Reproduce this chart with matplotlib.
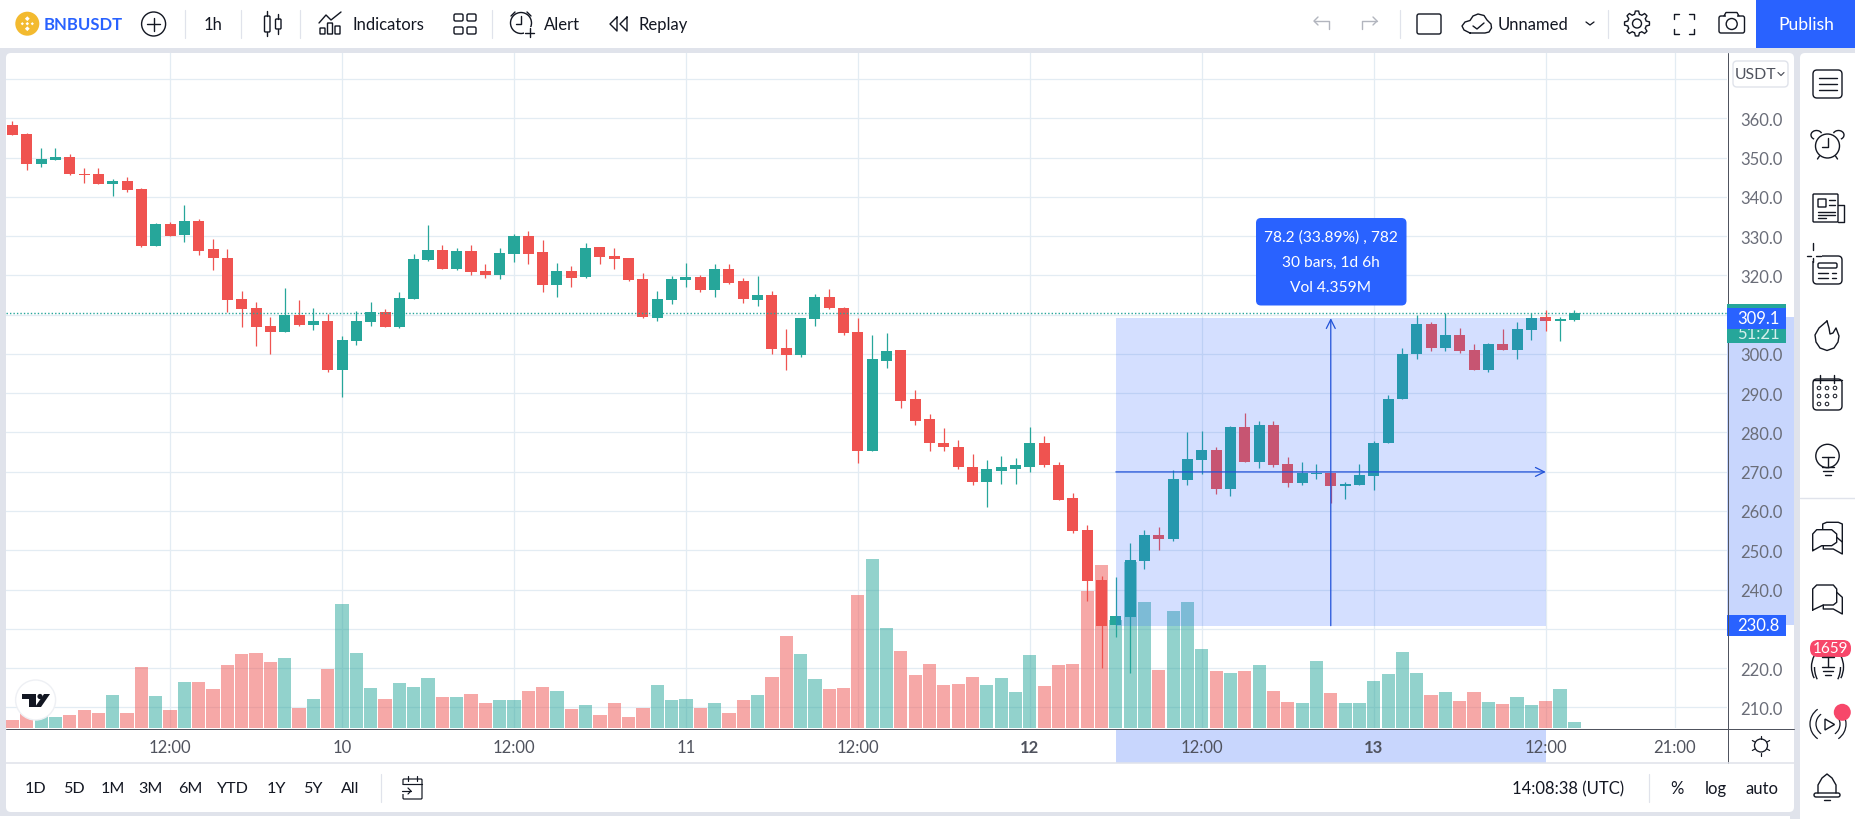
import numpy as np
import matplotlib
matplotlib.use('Agg')
import matplotlib.pyplot as plt
from matplotlib.patches import Circle, FancyBboxPatch, Polygon, Rectangle, Arc

plt.rcParams['font.family'] = ['Lato', 'DejaVu Sans']

# hourly bars, hour 0 is 10th 00:00
bar_hours = np.arange(-23, 87)

opens = [358.3, 356.0, 348.4, 349.4, 350.2, 345.8, 345.8, 343.3, 344.0, 342.0,
         327.5, 333.1, 330.3, 333.9, 326.8, 324.5, 314.0, 311.7, 307.2, 305.6,
         310.0, 307.4, 308.4, 296.0, 303.4, 308.2, 310.7, 306.9, 314.1, 324.0,
         326.5, 321.7, 326.3, 321.2, 320.2, 325.5, 330.1, 326.0, 317.6, 321.2,
         319.7, 327.3, 325.0, 324.5, 319.2, 309.2, 313.8, 318.9, 319.7, 316.3,
         321.7, 318.6, 313.8, 315.1, 301.6, 299.8, 309.0, 314.6, 311.8, 305.7,
         275.4, 298.3, 301.1, 288.4, 283.3, 277.4, 276.4, 271.3, 267.3, 270.3,
         270.8, 271.3, 277.2, 271.8, 263.2, 255.2, 242.4, 231.0, 233.0, 247.3,
         253.9, 252.9, 267.9, 273.0, 275.5, 265.6, 281.4, 272.5, 281.9, 271.9,
         267.1, 269.4, 269.8, 266.3, 266.6, 268.9, 277.2, 288.4, 300.1, 307.7,
         301.4, 304.7, 301.1, 296.0, 302.6, 301.1, 306.2, 309.5, 308.5, 308.7]

highs = [359.3, 356.3, 352.4, 352.4, 350.9, 347.4, 347.4, 344.6, 345.1, 342.3,
         333.4, 333.6, 337.9, 334.4, 329.3, 326.8, 316.1, 313.3, 309.5, 316.8,
         313.8, 311.7, 310.1, 304.6, 311.0, 313.3, 311.5, 315.8, 325.5, 332.9,
         327.8, 327.0, 327.8, 323.0, 327.0, 330.6, 331.4, 329.1, 323.2, 322.5,
         328.3, 327.3, 327.0, 324.5, 320.7, 316.1, 319.9, 323.2, 320.2, 323.0,
         323.0, 319.4, 319.9, 316.1, 306.4, 309.2, 315.3, 316.6, 312.0, 309.2,
         304.7, 305.2, 301.1, 290.7, 284.8, 281.2, 278.2, 274.4, 273.1, 274.1,
         273.4, 281.5, 279.2, 272.6, 264.5, 256.4, 243.5, 243.2, 251.8, 255.2,
         255.9, 270.4, 280.1, 280.3, 276.3, 281.6, 284.9, 282.9, 282.9, 273.7,
         272.5, 271.9, 269.8, 267.4, 271.9, 277.8, 289.6, 301.6, 310.0, 308.2,
         310.3, 306.7, 302.6, 302.9, 306.4, 308.2, 310.3, 311.3, 309.5, 311.3]

lows = [355.8, 346.9, 347.6, 349.4, 345.6, 343.5, 343.3, 340.2, 341.2, 327.3,
        327.5, 330.1, 328.5, 325.2, 321.4, 310.7, 306.9, 302.1, 300.0, 305.6,
        307.2, 306.1, 295.5, 289.1, 302.3, 307.2, 306.9, 306.7, 314.1, 323.7,
        321.7, 321.4, 320.2, 319.4, 319.2, 323.5, 323.0, 315.8, 314.6, 317.1,
        319.4, 323.0, 321.7, 318.6, 309.2, 308.5, 312.8, 317.1, 315.8, 314.6,
        317.9, 313.0, 312.3, 300.1, 296.0, 299.1, 307.2, 311.5, 304.7, 272.1,
        275.4, 296.3, 286.1, 281.8, 275.2, 275.4, 270.6, 266.5, 260.9, 267.0,
        267.0, 270.0, 271.1, 262.7, 254.5, 237.1, 220.0, 227.9, 218.8, 245.2,
        250.1, 252.4, 266.6, 269.4, 264.3, 263.8, 272.5, 270.9, 271.2, 266.1,
        266.6, 268.1, 262.0, 263.0, 266.6, 265.3, 277.2, 288.4, 298.8, 300.8,
        300.8, 300.3, 296.0, 295.5, 301.1, 298.8, 303.6, 305.9, 303.4, 308.5]

closes = [355.8, 348.4, 349.6, 350.2, 345.8, 345.6, 343.3, 344.0, 341.8, 327.5,
          333.1, 330.1, 333.9, 326.2, 324.5, 313.8, 311.5, 306.9, 305.6, 310.0,
          307.4, 308.4, 296.0, 303.6, 308.4, 310.7, 306.9, 314.3, 324.2, 326.5,
          321.7, 326.3, 320.9, 320.2, 325.8, 330.1, 325.5, 317.6, 321.2, 319.4,
          327.0, 324.7, 324.2, 318.9, 309.5, 314.1, 319.2, 319.7, 316.3, 321.7,
          318.1, 314.1, 315.1, 301.3, 299.8, 309.2, 314.6, 311.8, 305.4, 275.4,
          298.6, 300.8, 288.1, 283.0, 277.2, 276.4, 271.3, 267.3, 270.6, 271.1,
          271.6, 277.2, 271.6, 262.9, 255.0, 242.2, 230.7, 233.3, 247.5, 253.9,
          252.9, 268.1, 273.2, 275.5, 265.6, 281.4, 272.5, 281.9, 271.7, 267.1,
          269.8, 269.8, 266.3, 266.9, 269.2, 277.3, 288.6, 300.1, 307.7, 301.4,
          304.7, 300.8, 296.0, 302.6, 301.1, 306.4, 309.2, 308.5, 309.0, 310.3]

# volume in thousands
volumes = [25, 46, 38, 34, 40, 55, 46, 100, 46, 184,
           97, 55, 139, 139, 118, 190, 223, 226, 199, 211,
           61, 88, 178, 373, 226, 121, 88, 136, 124, 151,
           94, 94, 103, 76, 85, 85, 112, 124, 112, 58,
           70, 40, 76, 34, 61, 130, 85, 88, 61, 76,
           46, 85, 100, 154, 277, 223, 148, 118, 121, 400,
           508, 301, 232, 160, 193, 130, 133, 154, 130, 151,
           109, 220, 127, 190, 193, 412, 490, 325, 499, 379,
           175, 352, 379, 238, 172, 166, 172, 190, 112, 79,
           76, 202, 106, 76, 76, 142, 163, 229, 166, 100,
           109, 82, 109, 79, 73, 94, 70, 82, 118, 19]

price_ticks = [360, 350, 340, 330, 320, 310, 300, 290, 280, 270, 260, 250, 240, 230, 220, 210]
time_ticks = [-12, 0, 12, 24, 36, 48, 60, 72, 84, 93]
time_labels = ['12:00', '10', '12:00', '11', '12:00', '12', '12:00', '13', '12:00', '21:00']

measure_start, measure_end = 54, 84
measure_low, measure_high = 230.8, 309.1
measure_lines = ['78.2 (33.89%) , 782', '30 bars, 1d 6h', 'Vol 4.359M']

range_buttons = ['1D', '5D', '1M', '3M', '6M', 'YTD', '1Y', '5Y', 'All']
range_x = [36, 73.5, 112.7, 151, 190, 233, 276, 312.6, 350]

UP = '#26a69a'
DOWN = '#ef5350'
BLUE = '#2962ff'
ICON = '#131722'
PANEL = '#e0e3eb'
GRID = '#e3ecf3'
TXT = '#50535e'
BADGE = '#f7476a'

W, H = 1855, 820
fig = plt.figure(figsize=(W / 100, H / 100), dpi=100, facecolor=PANEL)


def overlay(z):
    a = fig.add_axes([0, 0, 1, 1], zorder=z)
    a.set_xlim(0, W)
    a.set_ylim(H, 0)
    a.axis('off')
    return a


back = overlay(0)
ui = overlay(3)


def line(xs, ys, lw=1.4, c=ICON, a=None):
    (a or ui).plot(xs, ys, color=c, lw=lw * 0.72, solid_capstyle='round', solid_joinstyle='round')


def box(x0, y0, x1, y1, r=2, fc='none', ec=ICON, lw=1.4, a=None):
    (a or ui).add_patch(FancyBboxPatch((x0, y0), x1 - x0, y1 - y0,
                                       boxstyle='round,pad=0,rounding_size=%s' % r,
                                       fc=fc, ec=ec, lw=lw * 0.72))


def ring(x, y, r, fc='none', ec=ICON, lw=1.4):
    ui.add_patch(Circle((x, y), r, fc=fc, ec=ec, lw=lw * 0.72))


def label(x, y, s, size=12, color=ICON, **kw):
    ui.text(x, y, s, fontsize=size, color=color, ha=kw.pop('ha', 'center'), va='center', **kw)


# panels
back.add_patch(Rectangle((0, 1), W, 48, fc='white', ec='none'))
box(6, 54, 1794, 813, r=5, fc='white', ec='none', a=back)
box(1800, 54, 1875, 840, r=5, fc='white', ec='none', a=back)
back.add_patch(Rectangle((0, 817), 1790, 3, fc='white', ec='none'))
# highlighted part of the axes
back.add_patch(Rectangle((1727, 318), 67, 308, fc='#c8d6fd', ec='none'))
back.add_patch(Rectangle((1115.5, 730), 430.5, 34, fc='#c8d6fd', ec='none'))

# chart
ax = fig.add_axes([6 / W, 1 - 729.3 / H, 1721 / W, 675.3 / H], zorder=1)
ax.patch.set_visible(False)
for s in ax.spines.values():
    s.set_visible(False)
ax.set_xlim(-23.45, 96.65)
ymin, ymax = 204.66, 376.63
ax.set_ylim(ymin, ymax)

ax.set_axisbelow(True)
ax.yaxis.tick_right()
ax.set_yticks(price_ticks + [370], ['%.1f' % p for p in price_ticks] + [''])
ax.set_xticks(time_ticks, time_labels)
ax.grid(True, color=GRID, lw=0.9)
ax.tick_params(axis='y', length=0, pad=9.6, labelsize=12, labelcolor='#6a6d78')
ax.tick_params(axis='x', length=0, pad=8, labelsize=12, labelcolor=TXT)
for t in ax.get_xticklabels():
    if t.get_text() in ('12', '13'):
        t.set_fontweight('bold')

opens = np.array(opens)
closes = np.array(closes)
colors = [UP if c >= o else DOWN for o, c in zip(opens, closes)]

# volume pane shares the bottom of the price pane, 1k is a third of a pixel
vol_scale = (ymax - ymin) / (675.3 * 3)
ax.bar(bar_hours, np.array(volumes) * vol_scale, bottom=ymin, width=0.92,
       color=colors, alpha=0.5, lw=0, zorder=2)

ax.vlines(bar_hours, lows, highs, colors=colors, lw=0.9, zorder=3)
ax.bar(bar_hours, np.abs(closes - opens), bottom=np.minimum(opens, closes),
       width=0.77, color=colors, lw=0, zorder=4)

# last price line
ax.axhline(closes[-1], color=UP, lw=1.0, ls=(0, (1, 1.5)), zorder=5)

# measure tool
ax.add_patch(Rectangle((measure_start, measure_low), measure_end - measure_start,
                       measure_high - measure_low, fc=BLUE, alpha=0.2, ec='none', zorder=6))
mid_h = (measure_start + measure_end) / 2
mid_p = (measure_low + measure_high) / 2
for a_from, a_to in [((mid_h, measure_low), (mid_h, measure_high)),
                     ((measure_start, mid_p), (measure_end, mid_p))]:
    ax.annotate('', xy=a_to, xytext=a_from, zorder=7,
                arrowprops=dict(arrowstyle='->', color='#2152d8', lw=0.9,
                                mutation_scale=16, shrinkA=0, shrinkB=0))

# axis frame
line([1727.5, 1727.5], [54, 764], lw=1.0, c=TXT)
line([6, 1794], [729.5, 729.5], lw=1.0, c=TXT)
line([6, 1794], [764, 764], lw=1.6, c=PANEL)
line([1800, 1855], [499, 499], lw=1.4, c=PANEL)

# tooltip
box(1256, 219, 1406.5, 306.5, r=5, fc=BLUE, ec='none')
for yy, s in zip([237.7, 262.7, 287.7], measure_lines):
    label(1331, yy, s, size=11.2, color='white')

# price labels, the countdown is partly hidden by the blue one as in the app
ui.add_patch(Rectangle((1727, 305), 58.5, 39, fc=UP, ec='none', zorder=2))
label(1758, 334, '51:21', size=12, color='#d5efec', zorder=3)
ui.add_patch(Rectangle((1727, 309), 58.5, 21, fc=BLUE, ec='none', zorder=4))
label(1758, 319.5, '%.1f' % measure_high, size=12, color='white', zorder=5)
ui.add_patch(Rectangle((1727, 616), 58.5, 21, fc=BLUE, ec='none'))
label(1758, 626.5, '%.1f' % measure_low, size=12, color='white')
box(1733, 62, 1788, 88, r=4, fc='white', ec=PANEL)
label(1756, 75, 'USDT', size=11.4, color=TXT)
line([1778, 1781, 1784], [73.5, 76.5, 73.5], lw=1.2, c=TXT)

# tv logo
ring(35.6, 701, 20, fc='white', ec='#eef0f4')
ui.add_patch(Polygon([(22, 695), (36, 695), (36, 708), (29, 708), (29, 700), (22, 700)], fc=ICON, ec='none'))
ring(40, 697.5, 2.6, fc=ICON, ec='none')
ui.add_patch(Polygon([(44, 695), (50, 695), (41, 708), (35, 708)], fc=ICON, ec='none'))

# sun icon on the time axis
ring(1761, 746.5, 6.5, lw=1.3)
for ang in np.arange(0, 360, 60):
    dx, dy = np.cos(np.radians(ang + 30)), np.sin(np.radians(ang + 30))
    line([1761 + 7 * dx, 1761 + 10 * dx], [746.5 + 7 * dy, 746.5 + 10 * dy], lw=1.2)

# bottom bar
for x, s in zip(range_x, range_buttons):
    label(x, 789, s, size=11.6)
line([381, 381], [775, 803], lw=1.2, c=PANEL)
box(403, 780, 422, 800, r=1, lw=1.2)
ui.add_patch(Rectangle((400, 786), 12, 9, fc='white', ec='none'))
line([403, 422], [785, 785], lw=1.2)
line([408, 408], [777, 782], lw=1.2)
line([417, 417], [777, 782], lw=1.2)
line([402, 411], [792, 792], lw=1.2)
line([408, 411, 408], [789, 792, 795], lw=1.2)
label(1568.5, 789, '14:08:38 (UTC)', size=12)
line([1648.6, 1648.6], [775, 803], lw=1.2, c=PANEL)
label(1677, 789, '%', size=12)
label(1715.6, 789, 'log', size=12)
label(1762, 789, 'auto', size=12)

# top bar, left
ring(27.3, 24.7, 12, fc='#f3ba2f', ec='none')
for dx, dy, s in [(0, -5, 2.4), (-5, 0, 1.6), (5, 0, 1.6), (0, 5, 2.4), (0, 0, 1.8)]:
    ui.add_patch(Polygon([(27.3 + dx - s, 24.7 + dy), (27.3 + dx, 24.7 + dy - s),
                          (27.3 + dx + s, 24.7 + dy), (27.3 + dx, 24.7 + dy + s)], fc='white', ec='none'))
label(83, 25, 'BNBUSDT', size=12, color=BLUE, fontweight='bold')
ring(153.6, 25, 12)
line([147, 160], [25, 25])
line([153.6, 153.6], [18.5, 31.5])
for x in [184.5, 241, 300, 492, 1399.5, 1607.7]:
    line([x, x], [11, 39], lw=1.2, c=PANEL)
label(213.5, 25, '1h', size=12)
box(264.5, 17, 270, 33, r=1)
line([267.2, 267.2], [12, 17])
line([267.2, 267.2], [33, 37])
box(275.5, 20, 281, 30, r=1)
line([278.2, 278.2], [15, 20])
line([278.2, 278.2], [30, 35])

# indicators
line([319, 326, 331, 341], [24, 16, 21, 13])
box(320, 29, 325, 35, r=0.5)
box(327.5, 24, 332.5, 35, r=0.5)
box(335, 27, 340, 35, r=0.5)
label(388.5, 25, 'Indicators', size=12)
for xx, yy in [(454, 15), (467, 15), (454, 28), (467, 28)]:
    box(xx, yy, xx + 9, yy + 7, r=1.5)

# alert
ring(521, 24, 10.5)
line([521, 521, 516], [17, 25, 25])
line([511, 515], [17, 13])
line([531, 527], [17, 13])
ui.add_patch(Rectangle((524, 28), 12, 11, fc='white', ec='none'))
line([529.5, 529.5], [29, 38])
line([525, 534], [33.5, 33.5])
label(561.7, 25, 'Alert', size=12)

# replay
line([617, 610, 617, 617], [18, 25, 32, 18])
line([627, 620, 627, 627], [18, 25, 32, 18])
label(663, 25, 'Replay', size=12)

# top bar, right
for cx, d in [(1321, 1), (1370, -1)]:
    line([cx + d * 8, cx + d * 8, cx - d * 7], [30, 22, 22], c='#b2b5be')
    line([cx - d * 3, cx - d * 7, cx - d * 3], [18, 22, 26], c='#b2b5be')
box(1417, 15, 1441, 35, r=2)
line([1470, 1464, 1462, 1465, 1470, 1473, 1478, 1484, 1487, 1491, 1491.5, 1489, 1485, 1470],
     [34, 31, 27, 23, 21.5, 17, 15, 16.5, 21, 25, 29, 33, 34, 34])
line([1473, 1477, 1484], [27, 30, 24])
label(1533, 25, 'Unnamed', size=12)
line([1586, 1590, 1594], [23, 26, 23], lw=1.3)

ring(1637, 24.5, 4.5)
angs = np.radians(np.arange(0, 360, 7.5))
radii = [12.5 if (i % 6) in (0, 1, 5) else 9.5 for i in range(len(angs))]
ui.add_patch(Polygon(np.c_[1637 + np.cos(angs) * radii, 24.5 + np.sin(angs) * radii],
                     fc='none', ec=ICON, lw=1.0))
for sx, sy in [(-1, -1), (1, -1), (-1, 1), (1, 1)]:
    line([1684 + sx * 10, 1684 + sx * 10, 1684 + sx * 5], [24.5 + sy * 5, 24.5 + sy * 10, 24.5 + sy * 10])
box(1719, 17, 1744.5, 34, r=2)
ui.add_patch(Rectangle((1726, 15), 11, 3, fc='white', ec='none'))
line([1724, 1726, 1737, 1739], [17, 13.5, 13.5, 17])
ring(1731.7, 25, 5.5)
ui.add_patch(Rectangle((1756, 1), 99, 48, fc=BLUE, ec='none'))
label(1806, 25, 'Publish', size=12.6, color='white')

# right toolbar
cx = 1827.5
box(cx - 14.5, 71, cx + 14.5, 99, r=4)
for yy in [79, 85, 91]:
    line([cx - 9, cx + 9], [yy, yy])

ring(cx, 147, 12)
line([cx, cx, cx - 6], [139, 148, 148])
ui.add_patch(Arc((cx - 11, 136), 11, 9, theta1=120, theta2=340, color=ICON, lw=1.0))
ui.add_patch(Arc((cx + 11, 136), 11, 9, theta1=200, theta2=60, color=ICON, lw=1.0))
line([cx - 8, cx - 10], [157, 160])
line([cx + 8, cx + 10], [157, 160])

box(1813, 195, 1838, 223, r=1)
line([1838, 1844, 1844, 1838], [206, 206, 223, 223])
box(1818, 200, 1826, 208, r=0.5)
line([1828.5, 1835], [201, 201])
line([1828.5, 1835], [205.5, 205.5])
line([1818, 1835], [212.5, 212.5])
line([1818, 1835], [215.5, 215.5])
line([1818, 1826], [218.5, 218.5])

box(1813, 257, 1842, 285, r=4)
ui.add_patch(Rectangle((1806, 250), 12, 12, fc='white', ec='none'))
ui.add_patch(Rectangle((1818, 255), 3.5, 4, fc='white', ec='none'))
line([1807, 1811], [257, 257])
line([1816, 1821], [257, 257])
line([1812.5, 1812.5], [244, 251])
line([1812.5, 1812.5], [259, 263])
box(1818, 264, 1837, 269, r=1.5)
for yy in [273.5, 279]:
    line([1818, 1828], [yy, yy])
    line([1832, 1836], [yy, yy])

line([1827, 1819, 1815, 1816, 1820, 1827, 1834, 1838, 1839, 1836, 1833, 1830, 1829, 1827],
     [322, 329, 336, 343, 349, 351.5, 349, 343, 337, 329, 334, 335, 329, 322])

box(1813, 380, 1842, 411, r=4)
line([1820, 1820], [376, 384])
line([1834, 1834], [376, 384])
line([1813, 1842], [381, 381])
for yy, xs in [(389, [1819, 1827, 1835]), (397, [1819, 1827, 1835]), (405, [1819, 1827])]:
    for xx in xs:
        ring(xx, yy, 1.8, lw=1)


def bulb_base(y):
    line([cx - 6, cx + 6], [y, y])
    line([cx - 5, cx + 5], [y + 4, y + 4])
    line([cx - 3, cx + 3], [y + 8, y + 8])


ring(cx, 457, 11.7)
line([cx - 6, cx + 6], [458, 458])
line([cx, cx], [458, 468])
bulb_base(468)

# chats
line([1812.7, 1812.7, 1816.7, 1831.7, 1836.7, 1836.7, 1831.7, 1821.7, 1812.7],
     [551.7, 535, 530.7, 530.7, 535, 543.3, 546.7, 546.7, 551.7])
line([1822.7, 1822.7, 1826.7, 1838.3, 1842.3, 1842.3, 1833.3, 1823.3, 1823.3],
     [530, 525, 523.3, 523.3, 525, 555, 550, 550, 546.7])
line([1836.7, 1842.3], [538.3, 543])
line([1812.7, 1812.7, 1816.7, 1833.3, 1836.7, 1836.7, 1833.3, 1823.3, 1812.7],
     [611, 590, 586, 586, 590, 603.3, 606, 606, 611])
line([1836.7, 1842.3, 1842.3, 1833.3, 1823.3, 1823.3],
     [593.3, 598.3, 615, 610, 610, 606])

# ideas with the badge
line([cx - 6, cx + 6], [658, 658])
line([cx, cx], [658, 668])
bulb_base(668)
ui.add_patch(Arc((cx, 668), 32, 40, theta1=140, theta2=220, color=ICON, lw=1.0))
ui.add_patch(Arc((cx, 668), 26, 40, theta1=130, theta2=180, color=ICON, lw=1.0))
ui.add_patch(Arc((cx, 668), 32, 40, theta1=-40, theta2=40, color=ICON, lw=1.0))
ui.add_patch(Arc((cx, 668), 26, 40, theta1=0, theta2=50, color=ICON, lw=1.0))
box(1810, 641, 1851, 658, r=8, fc=BADGE, ec='none')
label(1830.5, 649.5, '1659', size=11, color='white')

ui.add_patch(Polygon([(1825, 720), (1834.5, 725.5), (1825, 731)], fc='none', ec=ICON, lw=1.0))
for r in [12, 18]:
    ui.add_patch(Arc((1828, 725), 2 * r, 2 * r, theta1=125, theta2=235, color=ICON, lw=0.9))
    ui.add_patch(Arc((1828, 725), 2 * r, 2 * r, theta1=-55, theta2=55, color=ICON, lw=0.9))
ring(1842.3, 713.3, 8.5, fc=BADGE, ec='none')

line([1818, 1818, 1822, 1827, 1832, 1836, 1836], [794, 786, 779, 775, 779, 786, 794])
box(1814, 794, 1840, 798, r=2)
line([1824, 1830], [801, 801])

fig.savefig('out.png', dpi=100, facecolor=fig.get_facecolor())
